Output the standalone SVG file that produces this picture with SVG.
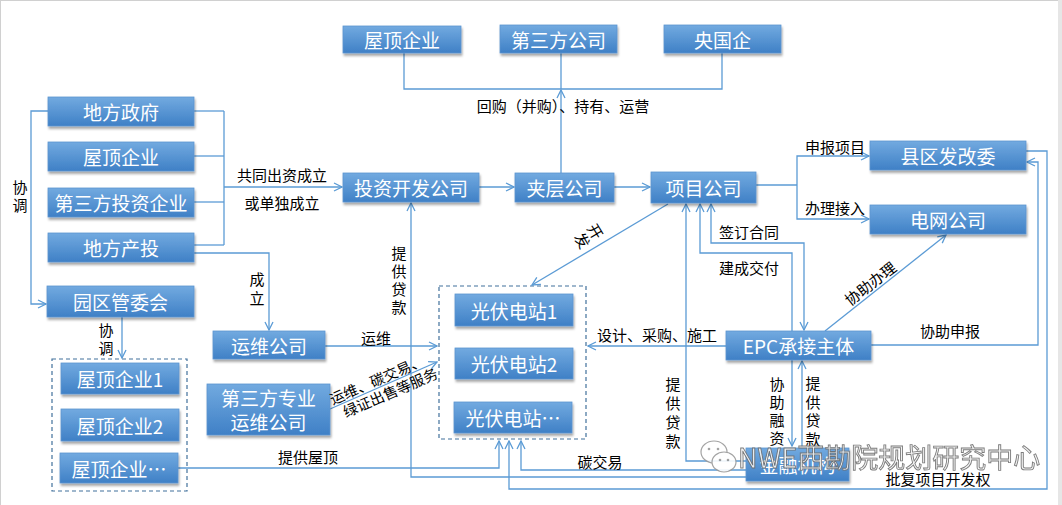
<svg xmlns="http://www.w3.org/2000/svg" width="1062" height="505" viewBox="0 0 1062 505">
<defs>
<linearGradient id="g" x1="0" y1="0" x2="0" y2="1">
<stop offset="0" stop-color="#72aae0"/>
<stop offset="1" stop-color="#3f80c6"/>
</linearGradient>
<filter id="sh" x="-10%" y="-20%" width="125%" height="160%">
<feDropShadow dx="1" dy="2.5" stdDeviation="1.3" flood-color="#000" flood-opacity="0.35"/>
</filter>
<marker id="a" viewBox="0 0 10 10" refX="9" refY="5" markerWidth="10" markerHeight="10" markerUnits="userSpaceOnUse" orient="auto-start-reverse">
<path d="M1,1 L9,5 L1,9" fill="none" stroke="#5b9bd5" stroke-width="1.3"/>
</marker>
<style>
.n rect{fill:url(#g);stroke:#5d95d0;stroke-width:0.8;filter:url(#sh)}
.n text{fill:#fff;font-family:"Noto Sans CJK SC","Noto Sans",sans-serif;font-size:19px;text-anchor:middle;dominant-baseline:central}
.c path,.c line,.c polyline{fill:none;stroke:#5b9bd5;stroke-width:1.3}
.ar{marker-end:url(#a)}
.l{fill:#000;font-family:"Noto Sans CJK SC","Noto Sans",sans-serif;font-size:15px;text-anchor:middle;dominant-baseline:central}
.d{fill:none;stroke:#41719c;stroke-width:1.2;stroke-dasharray:4 3}
</style>
</defs>
<rect width="1062" height="505" fill="#fff"/>
<line x1="0" y1="0.5" x2="1062" y2="0.5" stroke="#d0d0d0"/>
<line x1="0.5" y1="0" x2="0.5" y2="505" stroke="#d0d0d0"/>
<rect x="1058" y="0" width="4" height="505" fill="#e6e6e6"/>

<!-- dashed groups -->
<rect class="d" x="52" y="359" width="135" height="132"/>
<rect class="d" x="439" y="286" width="147" height="153"/>

<g class="c">
<!-- top -->
<polyline points="404,53 404,89 722,89 722,53"/>
<line x1="561" y1="53" x2="561" y2="89"/>
<line class="ar" x1="561" y1="173" x2="561" y2="90"/>
<!-- left investors -->
<line x1="194" y1="111" x2="224" y2="111"/>
<line x1="194" y1="156" x2="224" y2="156"/>
<line x1="194" y1="202" x2="224" y2="202"/>
<line x1="194" y1="245" x2="224" y2="245"/>
<line x1="224" y1="111" x2="224" y2="245"/>
<line class="ar" x1="224" y1="187" x2="342" y2="187"/>
<polyline class="ar" points="194,253 269,253 269,330"/>
<polyline class="ar" points="48,111 31,111 31,304 46,304"/>
<line class="ar" x1="122" y1="317" x2="122" y2="358"/>
<!-- middle row -->
<line class="ar" x1="479" y1="187" x2="514" y2="187"/>
<line class="ar" x1="614" y1="187" x2="650" y2="187"/>
<line x1="756" y1="185" x2="797" y2="185"/>
<polyline class="ar" points="869,156 797,156 797,219 869,219" style="marker-start:url(#a)"/>
<line class="ar" x1="668" y1="204" x2="532" y2="285"/>
<!-- project company bottom -->
<polyline class="ar" points="711,204 711,243 804,243 804,330" style="marker-start:url(#a)"/>
<polyline class="ar" points="792,331 792,253 700,253 700,204"/>
<polyline class="ar" points="746,461 686,461 686,204"/>
<!-- to PV -->
<line class="ar" x1="325" y1="346" x2="437" y2="346"/>
<line class="ar" x1="330" y1="409" x2="437" y2="362"/>
<polyline class="ar" points="178,468 499,468 499,441"/>
<polyline class="ar" points="746,477 411,477 411,203"/>
<polyline class="ar" points="746,470 521,470 521,441"/>
<polyline class="ar" points="1026,151 1047,151 1047,489 509,489 509,441"/>
<polyline class="ar" points="871,345 1038,345 1038,162 1027,162"/>
<line class="ar" x1="726" y1="346" x2="588" y2="346"/>
<line class="ar" x1="825" y1="331" x2="946" y2="235"/>
<line class="ar" x1="792" y1="360" x2="792" y2="446"/>
<line class="ar" x1="802" y1="447" x2="802" y2="361"/>
</g>

<!-- nodes -->
<g id="n-top-roof" class="n"><rect x="343" y="26" width="118" height="27"/><text x="402" y="39.5">屋顶企业</text></g>
<g id="n-third-co" class="n"><rect x="500" y="25" width="117" height="28"/><text x="558.5" y="39">第三方公司</text></g>
<g id="n-soe" class="n"><rect x="664" y="25" width="117" height="28"/><text x="722.5" y="39">央国企</text></g>

<g id="n-gov" class="n"><rect x="48" y="97" width="146" height="29"/><text x="121" y="111.5">地方政府</text></g>
<g id="n-roof" class="n"><rect x="48" y="142" width="146" height="29"/><text x="121" y="156.5">屋顶企业</text></g>
<g id="n-third-inv" class="n"><rect x="48" y="188" width="146" height="29"/><text x="121" y="202.5">第三方投资企业</text></g>
<g id="n-local-inv" class="n"><rect x="48" y="233" width="146" height="29"/><text x="121" y="247.5">地方产投</text></g>
<g id="n-park" class="n"><rect x="47" y="286" width="147" height="31"/><text x="120.5" y="301.5">园区管委会</text></g>

<g id="n-roof1" class="n"><rect x="61" y="363" width="118" height="31"/><text x="120" y="378.5">屋顶企业1</text></g>
<g id="n-roof2" class="n"><rect x="61" y="409" width="118" height="32"/><text x="120" y="425">屋顶企业2</text></g>
<g id="n-roofn" class="n"><rect x="60" y="453" width="118" height="30"/><text x="119" y="468">屋顶企业…</text></g>

<g id="n-invdev" class="n"><rect x="343" y="173" width="136" height="29"/><text x="411" y="187.5">投资开发公司</text></g>
<g id="n-mezz" class="n"><rect x="515" y="173" width="99" height="29"/><text x="564.5" y="187.5">夹层公司</text></g>
<g id="n-proj" class="n"><rect x="651" y="172" width="105" height="31"/><text x="703.5" y="187.5">项目公司</text></g>

<g id="n-ndrc" class="n"><rect x="870" y="141" width="156" height="29"/><text x="948" y="155.5">县区发改委</text></g>
<g id="n-grid" class="n"><rect x="870" y="205" width="156" height="29"/><text x="948" y="219.5">电网公司</text></g>

<g id="n-om" class="n"><rect x="213" y="331" width="112" height="28"/><text x="269" y="345">运维公司</text></g>
<g id="n-third-om" class="n"><rect x="207" y="384" width="123" height="51"/><text x="268.5" y="397">第三方专业</text><text x="268.5" y="421">运维公司</text></g>

<g id="n-pv1" class="n"><rect x="455" y="294" width="118" height="32"/><text x="514" y="310">光伏电站1</text></g>
<g id="n-pv2" class="n"><rect x="455" y="348" width="118" height="31"/><text x="514" y="363.5">光伏电站2</text></g>
<g id="n-pvn" class="n"><rect x="454" y="402" width="118" height="31"/><text x="513" y="417.5">光伏电站…</text></g>

<g id="n-epc" class="n"><rect x="726" y="331" width="145" height="29"/><text x="798.5" y="345.5">EPC承接主体</text></g>
<g id="n-fin" class="n"><rect x="746" y="448" width="103" height="33"/><text x="797.5" y="464.5">金融机构</text></g>

<!-- labels -->
<g id="labels">
<text class="l" x="563" y="105">回购（并购）、持有、运营</text>
<text class="l" x="282" y="174">共同出资成立</text>
<text class="l" x="282" y="202">或单独成立</text>
<text class="l" x="257" y="278">成</text><text class="l" x="257" y="297">立</text>
<text class="l" x="20" y="186">协</text><text class="l" x="20" y="204">调</text>
<text class="l" x="106" y="329">协</text><text class="l" x="106" y="347">调</text>
<text class="l" x="399" y="252">提</text><text class="l" x="399" y="270">供</text><text class="l" x="399" y="288">贷</text><text class="l" x="399" y="306">款</text>
<text class="l" transform="translate(596,231) rotate(59)">开</text>
<text class="l" transform="translate(583,240) rotate(59)">发</text>
<text class="l" x="376" y="337">运维</text>
<g transform="translate(384,385.5) rotate(-23.5)">
<text class="l" x="-4" y="-9" style="font-size:14.5px">运维、碳交易、</text>
<text class="l" x="3" y="8" style="font-size:14.5px">绿证出售等服务</text>
</g>
<text class="l" x="308" y="456">提供屋顶</text>
<text class="l" x="600" y="461">碳交易</text>
<text class="l" x="938" y="478">批复项目开发权</text>
<text class="l" x="835" y="146">申报项目</text>
<text class="l" x="835" y="207">办理接入</text>
<text class="l" x="749" y="231">签订合同</text>
<text class="l" x="749" y="267">建成交付</text>
<text class="l" x="657" y="334">设计、采购、施工</text>
<text class="l" transform="translate(870,283) rotate(-38)">协助办理</text>
<text class="l" x="950" y="330">协助申报</text>
<text class="l" x="673" y="383">提</text><text class="l" x="673" y="402">供</text><text class="l" x="673" y="421">贷</text><text class="l" x="673" y="440">款</text>
<text class="l" x="777" y="383">协</text><text class="l" x="777" y="401">助</text><text class="l" x="777" y="419">融</text><text class="l" x="777" y="437">资</text>
<text class="l" x="813" y="382">提</text><text class="l" x="813" y="401">供</text><text class="l" x="813" y="419">贷</text><text class="l" x="813" y="438">款</text>
</g>

<!-- watermark -->
<g id="watermark" opacity="0.9">
<ellipse cx="714" cy="452" rx="13" ry="11" fill="#fff" stroke="#9a9a9a" stroke-width="1.2"/>
<ellipse cx="724" cy="462" rx="12" ry="10" fill="#fff" stroke="#9a9a9a" stroke-width="1.2"/>
<circle cx="709" cy="449" r="1.3" fill="#9a9a9a"/><circle cx="718" cy="449" r="1.3" fill="#9a9a9a"/>
<circle cx="720" cy="460" r="1.3" fill="#9a9a9a"/><circle cx="728" cy="460" r="1.3" fill="#9a9a9a"/>
<text x="738" y="468" style="font-family:'Noto Sans CJK SC','Noto Sans',sans-serif;font-size:27px;fill:#f4f4f4;stroke:#6e6e6e;stroke-width:0.9">NWE西勘院规划研究中心</text>
</g>
</svg>
